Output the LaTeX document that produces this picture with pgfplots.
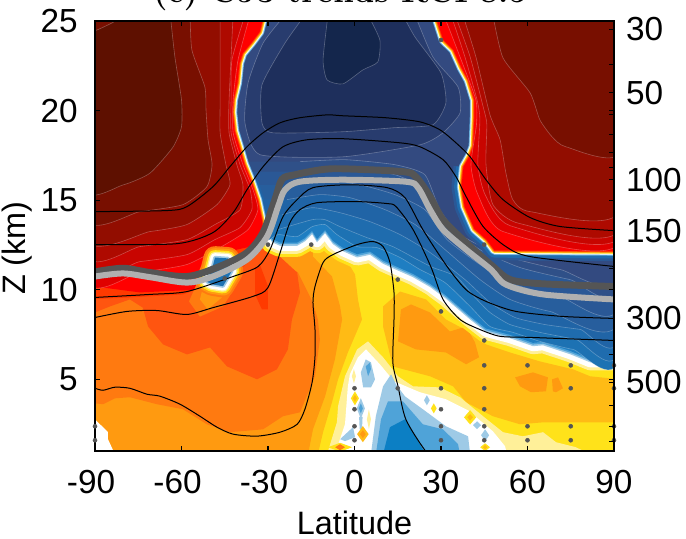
\documentclass[border=0pt]{standalone}
\usepackage{fontspec}
\setsansfont{Liberation Sans}
\usepackage{pgfplots}
\usepackage{pgfplotstable}
\pgfplotsset{compat=1.18}
\definecolor{ye}{HTML}{FFE21A}\definecolor{yb}{HTML}{FFBB15}\definecolor{o9}{HTML}{FF9A10}
\definecolor{o7}{HTML}{FF7A10}\definecolor{o5}{HTML}{FF5510}\definecolor{o3}{HTML}{FF3A00}
\definecolor{pa}{HTML}{FFF099}\definecolor{lb}{HTML}{9ECAE6}\definecolor{mb}{HTML}{4FA3D8}
\definecolor{db}{HTML}{0C7FC4}\definecolor{b2}{HTML}{1F7EC2}\definecolor{b3}{HTML}{1D72B3}
\definecolor{b4}{HTML}{1F6CAE}\definecolor{b5}{HTML}{2064A6}\definecolor{b6}{HTML}{275E9D}
\definecolor{b7}{HTML}{2A5896}\definecolor{b8}{HTML}{2F5088}\definecolor{b9}{HTML}{334A80}
\definecolor{u1}{HTML}{283C6E}\definecolor{u2}{HTML}{1E2F5C}\definecolor{u3}{HTML}{14264C}
\definecolor{r1}{HTML}{5E1000}\definecolor{r2}{HTML}{780F00}\definecolor{r3}{HTML}{920D00}
\definecolor{r4}{HTML}{AE0A00}\definecolor{r5}{HTML}{C80500}\definecolor{r6}{HTML}{E00000}
\definecolor{gd}{HTML}{555555}\definecolor{gl}{HTML}{B0B0B0}
\pgfplotstableread{
x y
-30.3 13.2
-28.6 12.65
-25.8 12.45
-19.9 12.45
-17.2 12.7
-14.7 13.1
-13 12.65
-10.2 13.15
-7.5 12.55
-4 12.15
0.9 11.8
5.4 11.95
9.9 11.45
14.7 11.1
20.3 10.7
26.2 10.15
31.7 9.5
40 8.35
45.6 7.65
53.9 7.3
61.9 6.85
65.4 6.9
74.8 6.4
81.7 5.95
95 5.95
}\lowE
\pgfplotstableread{
x y
-30.3 13.2
-28.6 12.65
-25.8 12.45
-19.9 12.45
-17.2 12.7
-14.7 13.1
-13 12.65
-10.2 13.15
-7.5 12.55
-4 12.15
0.9 11.8
5.4 11.95
9.9 11.45
14.7 11.1
20.3 10.7
26.2 10.15
31.7 9.5
40 8.35
45.6 7.65
53.9 7.3
61.9 6.85
65.4 6.9
74.8 6.4
81.7 5.95
95 5.95
95 27
-45 27
-45 13.2
}\Pfill
\pgfplotstableread{
x y
-31.2 25.5
-32.9 24.4
-35.7 23.8
-38.8 23.2
-39.9 22.65
-40.6 21.55
-42 20.6
-42.3 19.9
-41.6 18.85
-39.9 17.95
-38.2 17
-35.7 16
-33.6 15
-32.2 13.95
-31.5 13.2
}\Ledge
\pgfplotstableread{
x y
-35.7 16
-33.6 15
-32.2 13.95
-31.5 13.2
}\LedgeLow
\pgfplotstableread{
x y
27.7 25.5
30.8 23.95
34.3 23.4
37.1 22.4
39.5 21.7
41.6 20.6
41.6 19.65
41.2 18
39.9 17.45
37.8 16.85
37.1 15.75
38.2 14.65
41.6 13.4
45.8 12.8
48.6 12.2
95 12.15
}\Redge
\pgfplotstableread{
x y
37.8 16.85
37.1 15.75
38.2 14.65
41.6 13.4
45.8 12.8
48.6 12.2
95 12.15
}\RedgeLow
\pgfplotstableread{
x y
-48.4 11.8
-43.9 11.75
-42.5 11.05
-45.6 10.2
-49.4 10.3
-51.2 10.45
-49.4 11.15
-48.4 11.8
-43.9 11.75
}\bub
\newcommand{\ptw}[2]{\addplot[draw=#1,line width=#2,line join=round,forget plot]}
\newcommand{\gradedge}[1]{%
\ptw{mb}{7pt} table {#1};
\ptw{lb}{6.2pt} table {#1};
\ptw{white}{5.2pt} table {#1};
\ptw{pa}{4.2pt} table {#1};
\ptw{ye}{3.6pt} table {#1};
\ptw{yb}{3pt} table {#1};
\ptw{o7}{2.2pt} table {#1};
\ptw{o3}{1.3pt} table {#1};
}
\newcommand{\fillpoly}[2]{\addplot[fill=#1,draw=none,forget plot] coordinates {#2};}
\newcommand{\contpoly}[2]{\addplot[fill=#1,draw=white,draw opacity=.28,line width=.45pt,smooth,tension=.35,forget plot] coordinates {#2};}
\newcommand{\blackline}[1]{\addplot[black,line width=.75pt,smooth,tension=.45,forget plot] coordinates {#1};}
\begin{document}
\begin{tikzpicture}
\path[use as bounding box] (0,0) rectangle (514.5pt,404.25pt);
\node[anchor=base,font=\fontsize{24.6}{24.6}\selectfont\bfseries] at (255pt,402pt) {(c) CJ3 trends RCP8.5};
\begin{axis}[
 at={(71.25pt,66pt)},anchor=south west,scale only axis,
 width=389.25pt,height=322.5pt,
 xmin=-90,xmax=90,ymin=1,ymax=25,
 axis on top,clip=true,
 axis line style={line width=1pt},
 tick style={black,line width=.8pt},
 tick align=inside,major tick length=3.75pt,
 xtick={-90,-60,-30,0,30,60,90},
 xticklabels={-90\kern6pt,-60\kern6pt,-30\kern6pt,0,30,60,90},
 ytick={5,10,15,20,25},
 yticklabels={5,10,15,20,25},
 tick label style={font=\sffamily\fontsize{25}{25}\selectfont},
 xticklabel style={yshift=-11pt},
 yticklabel style={xshift=-9.5pt},
 xlabel={Latitude},ylabel={Z (km)},
 label style={font=\sffamily\fontsize{24.3}{24.3}\selectfont},
 xlabel style={yshift=-6pt},
 ylabel style={yshift=-.5pt,xshift=-9pt},
]
% troposphere
\fillpoly{ye}{(-95,0)(95,0)(95,14)(-95,14)}
\fillpoly{yb}{(-3.3,11.8)(.2,10.85)(1.2,9.46)(2.6,8.34)(-2.3,6.5)(-5.7,5)(-7.8,3.72)(-10.9,2.05)(-12.7,.82)(-93.5,.82)(-93.5,12.8)(-3.3,12.8)}
\fillpoly{yb}{(9.9,9.07)(15.8,9.9)(24.8,9.46)(31.7,8.34)(40.1,7.62)(45.6,6.95)(53.9,6.5)(64.3,6)(75.8,5.56)(81.7,5.17)(92,5)(92,2.6)(76.8,2.6)(65.4,2.6)(57.4,2.49)(48,2.94)(38.7,3.72)(34.2,4.61)(26.2,5.17)(13.3,5.72)(9.9,7.95)}
\fillpoly{o9}{(-14.4,11.85)(-7.8,10.74)(-5,9.07)(-4.3,8.34)(-6.8,6.11)(-10.2,4.05)(-14.4,2.21)(-16.1,.82)(-93.5,.82)(-93.5,12.8)(-14.4,12.8)}
\fillpoly{o9}{(15.1,7.12)(16.1,8.9)(19.6,9.18)(26.2,8.73)(33.1,7.67)(38.7,7.95)(41.8,7.06)(43.2,6.23)(38.7,5.84)(31.7,6.5)(21.3,6.67)}
\fillpoly{o9}{(55.7,5.11)(61.9,5.39)(67.1,5.11)(66.4,4.33)(61.2,4.28)(57.4,4.61)}
\fillpoly{o9}{(68.5,5)(70.6,5.11)(72.3,4.5)(69.9,4.28)(68.8,4.33)}
\fillpoly{o7}{(-28.6,12.52)(-24.8,11.52)(-19.6,10.96)(-14.4,9.29)(-12.7,8.34)(-12,7.23)(-13.7,5.17)(-18.9,3.16)(-24.8,2.94)(-31.7,2.21)(-43.2,2.05)(-51.2,2.49)(-59.5,3.33)(-68.5,3.61)(-77.9,4)(-83.1,3.94)(-87.2,3.61)(-93.5,3.72)(-93.5,12.8)}
\fillpoly{o5}{(-28.6,12.8)(-25.9,11.85)(-19.9,10.96)(-18.9,9.85)(-21.7,8.34)(-23.1,6.67)(-26.9,5.56)(-33.8,5)(-44.2,5.72)(-50.1,6.78)(-58.1,6.39)(-66.4,6.95)(-71.6,7.95)(-73.4,9)(-77.9,9.46)(-84.8,9.07)(-93.5,8.51)(-93.5,12.8)}
\fillpoly{o3}{(-93.5,9.46)(-77.9,9.57)(-59.5,9.74)(-50.1,10.3)(-39.7,11.13)(-32.1,12.24)(-32.1,13.08)(-93.5,13.08)}
\fillpoly{o3}{(-34.5,11.2)(-32.8,11.4)(-30,10.2)(-30,8.9)(-32.1,8.9)(-34.5,9.75)}
\fillpoly{white}{(-90,2.77)(-85.5,2.05)(-85.5,1.66)(-83.1,.82)(-93.5,.82)(-93.5,2.77)}
% pale and white centre
\fillpoly{pa}{(4.7,7.12)(9.9,6.23)(15.1,5.17)(20.3,4.61)(29.6,4.55)(36.6,4)(44.6,2.94)(51.5,2.05)(58.4,1.82)(65.4,2.05)(69.9,1.49)(76.8,1.21)(81.7,.82)(-9.5,.82)(-6.1,2.6)(-5.7,3.5)(-3.3,5.17)(.9,6.67)}
\fillpoly{white}{(4,6.67)(8.8,5.84)(13.7,4.89)(22.7,4.28)(31.7,3.89)(39.4,3.27)(48,2.1)(52.2,1.27)(52.9,.82)(-6.8,.82)(-3.3,2.49)(-2.3,4.61)(-1.6,5.28)(1.2,6.23)}
\fillpoly{lb}{(5.7,.82)(7.4,2.94)(9.9,4.61)(12.7,5.28)(14.4,4.72)(17.5,4.05)(23.7,3.33)(31.7,2.38)(39.4,1.82)(40.1,.82)}
\fillpoly{mb}{(7.4,.82)(9.2,2.77)(11.6,3.77)(16.8,3.77)(23.7,2.49)(30.7,2.21)(35.9,1.38)(36.6,.82)}
\fillpoly{db}{(9.9,.82)(12.3,2.33)(17.5,2.77)(23.7,1.1)(24.4,.82)}
\fillpoly{lb}{(2.2,5.39)(3.9,6.11)(5.7,5.95)(7.1,5)(5.7,4.55)(3,4.55)}
\fillpoly{mb}{(3.9,5.72)(5.4,5.95)(5.7,5.56)(4.7,5.17)}
% small patches
\fillpoly{ye}{(-1.25,3.94)(.15,4.33)(1.55,3.94)(.15,3.55)}
\fillpoly{yb}{(-.55,3.94)(.15,4.14)(.85,3.94)(.15,3.74)}
\fillpoly{pa}{(-.9,5.17)(-.2,5.57)(.5,5.17)(-.2,4.77)}
\fillpoly{lb}{(.8,3.38)(2.2,3.95)(3.6,3.38)(2.2,2.8)}
\fillpoly{mb}{(1.5,3.38)(2.2,3.66)(2.9,3.38)(2.2,3.1)}
\fillpoly{lb}{(1.6,2.9)(2.8,2.9)(2.6,2.2)(1.8,2.2)}
\fillpoly{lb}{(-5,1.66)(-.5,2.33)(.2,1.77)(-3.3,1.55)}
\fillpoly{yb}{(.9,1.94)(2.9,2.39)(4.9,1.94)(2.9,1.49)}
\fillpoly{o9}{(1.9,1.94)(2.9,2.16)(3.9,1.94)(2.9,1.72)}
\fillpoly{ye}{(-9.2,1.21)(-5,1.46)(-.8,1.21)(-5,.96)}
\fillpoly{o7}{(-6.7,1.21)(-5,1.38)(-3.3,1.21)(-5,1.04)}
\fillpoly{pa}{(4.3,2.77)(5,3.32)(5.7,2.77)(5,2.22)}
\fillpoly{lb}{(24.1,3.83)(25.1,4.11)(26.1,3.83)(25.1,3.55)}
\fillpoly{ye}{(26.5,3.38)(27.5,3.66)(28.5,3.38)(27.5,3.1)}
\fillpoly{ye}{(38,2.88)(40.1,3.28)(42.2,2.88)(40.1,2.48)}
\fillpoly{yb}{(39.1,2.88)(40.1,3.06)(41.1,2.88)(40.1,2.7)}
\fillpoly{lb}{(41.1,2.44)(42.5,2.66)(43.9,2.44)(42.5,2.22)}
\fillpoly{lb}{(43.9,1.88)(45.3,2.21)(46.7,1.88)(45.3,1.55)}
\fillpoly{ye}{(43.6,1.21)(45.3,1.43)(47,1.21)(45.3,.99)}
\fillpoly{yb}{(44.5,1.21)(45.3,1.33)(46.1,1.21)(45.3,1.09)}
% edge under the tropopause
\ptw{ye}{16.5pt} table {\lowE};
\ptw{pa}{12pt} table {\lowE};
\ptw{white}{7.5pt} table {\lowE};
% blue bands
\addplot[fill=lb,draw=none,forget plot] table {\Pfill};
\addplot[fill=mb,draw=none,forget plot,yshift=1.2pt] table {\Pfill};
\addplot[fill=b2,draw=none,forget plot,yshift=2.5pt] table {\Pfill};
\contpoly{b3}{(-29.3,12.8)(-26.5,13.08)(-19.9,12.97)(-14.7,13.52)(-10.2,13.64)(-6.1,13.08)(.9,12.41)(7.8,12.35)(15.8,11.8)(22.7,11.13)(31.4,10.4)(40.1,9.07)(47,7.95)(55,7.62)(64.3,7.12)(75.8,6.67)(92,6.34)(95,27)(-45,27)(-45,12.8)}
\contpoly{b4}{(-26.5,13.36)(-14.7,13.91)(-10.2,13.91)(-5,13.52)(4.3,12.91)(13.3,12.41)(21.7,11.69)(27.2,11.24)(35.2,10.74)(41.8,9.57)(47,8.73)(53.9,8.06)(64.3,7.62)(76.8,7.23)(92,6.78)(95,27)(-45,27)(-45,13.36)}
\contpoly{b5}{(-25.1,14.19)(-14.7,14.58)(-5,14.3)(5.4,13.8)(15.8,13.08)(26.2,12.08)(38.3,10.57)(47,9.29)(55.7,8.45)(66,8.06)(78.2,7.79)(92,7.51)(95,27)(-45,27)(-45,14.19)}
\contpoly{b6}{(-23.4,15.03)(-12,15.31)(-1.6,15.14)(10.6,14.47)(21,13.64)(31.4,12.24)(43.5,10.57)(53.9,9.46)(67.8,8.79)(92,8.34)(95,27)(-45,27)(-45,15.03)}
\contpoly{b7}{(-22.4,15.86)(-12,16.14)(1.9,15.86)(14,15.31)(24.4,14.47)(32.1,12.8)(43.5,11.41)(55.7,10.29)(71.3,9.62)(92,9.18)(95,27)(-45,27)(-45,15.86)}
\contpoly{b8}{(-20.6,16.59)(-5,16.87)(14,16.42)(24.4,15.58)(32.1,13.64)(43.5,12.24)(57.4,11.24)(74.7,10.57)(92,10.13)(95,27)(-45,27)(-45,16.59)}
\contpoly{b9}{(-18.9,17.15)(-3.3,17.26)(14,16.98)(24.4,16.42)(29.6,14.47)(36.6,13.08)(50.5,11.96)(71.3,11.13)(92,10.85)(95,27)(-45,27)(-45,17.15)}
\contpoly{u1}{(-24.1,25.33)(-31.7,23.77)(-36.9,21.55)(-38,19.32)(-32.8,17.54)(-4,17.42)(22.7,18.09)(30.7,18.76)(36.6,19.87)(35.9,21.32)(27.2,22.99)(21,25.33)}
\contpoly{u2}{(-17.2,25.33)(-24.1,23.77)(-32.1,21.43)(-32.1,19.32)(-28.3,18.76)(-4,18.82)(13.3,19.04)(27.2,19.21)(31.7,20.43)(30,22.1)(21,24.1)(16.8,25.33)}
\contpoly{u3}{(-9.2,25.33)(-10.9,22.83)(-9.5,21.71)(-4,21.49)(2.9,22.27)(8.1,22.72)(8.8,23.94)(4.7,25.33)}
% stratospheric reds, left
\ptw{b5}{10pt} table {\LedgeLow};
\gradedge{\Ledge}
\fillpoly{red}{(-31.2,25.5)(-32.9,24.4)(-35.7,23.8)(-38.8,23.2)(-39.9,22.65)(-40.6,21.55)(-42,20.6)(-42.3,19.9)(-41.6,18.85)(-39.9,17.95)(-38.2,17)(-35.7,16)(-33.6,15)(-32.2,13.95)(-31.5,13.2)(-32.8,12.52)(-40.8,12.24)(-50.1,11.24)(-55.3,10)(-74.4,9.85)(-90,10.18)(-93.5,10.18)(-93.5,26)}
\contpoly{r6}{(-36.2,25.33)(-40.4,22.83)(-42.1,20.6)(-42.1,18.76)(-38.7,16.98)(-35.2,15.58)(-33.5,14.47)(-36.9,13.36)(-44.9,12.52)(-58.1,11.41)(-74.4,10.98)(-93.5,10.68)(-93.5,26)}
\contpoly{r5}{(-38,25.33)(-42.5,22.83)(-42.8,20.6)(-42.8,18.76)(-39.7,16.98)(-36.2,15.58)(-35.6,14.47)(-39.7,13.47)(-48.4,12.8)(-58.1,11.96)(-74.4,11.57)(-93.5,11.24)(-93.5,26)}
\contpoly{r4}{(-42.1,25.33)(-43.5,20.6)(-43.5,18.76)(-40.8,16.98)(-38.7,15.86)(-39.7,14.47)(-48.4,13.64)(-58.1,12.8)(-74.4,12.41)(-93.5,12.08)(-93.5,26)}
\contpoly{r3}{(-46.6,25.33)(-46.6,20.6)(-46.6,18.76)(-44.6,16.98)(-43.2,15.86)(-47.7,14.75)(-58.1,13.64)(-70.9,13.25)(-93.5,12.91)(-93.5,26)}
\contpoly{r2}{(-57,25.33)(-56.4,23.38)(-51.9,21.32)(-51.5,20.04)(-50.8,18.37)(-49.4,16.98)(-51.2,15.75)(-59.5,14.75)(-74.4,14.36)(-93.5,14.03)(-93.5,26)}
\contpoly{r1}{(-64,25.5)(-62.3,23)(-60,20.6)(-60,19.1)(-63,17.95)(-71,16.5)(-80.3,15.85)(-93.5,15.6)(-93.5,24.3)(-90,24.45)(-83,25)(-83,25.5)}
% stratospheric reds, right
\ptw{b7}{15pt} table {\RedgeLow};
\ptw{b4}{11pt} table {\RedgeLow};
\gradedge{\Redge}
\fillpoly{red}{(27.7,25.5)(30.8,23.95)(34.3,23.4)(37.1,22.4)(39.5,21.7)(41.6,20.6)(41.6,19.65)(41.2,18)(39.9,17.45)(37.8,16.85)(37.1,15.75)(38.2,14.65)(41.6,13.4)(45.8,12.8)(48.6,12.2)(95,12.15)(95,26)}
\contpoly{r6}{(31,25.33)(36.6,23)(42.1,20.6)(42.3,19.21)(40.4,16.98)(42.8,15.31)(51.5,13.25)(92,12.63)(95,26)}
\contpoly{r5}{(33.5,25.33)(38.3,23)(42.5,20.6)(43.5,19.5)(42.8,16.98)(45.3,15.31)(53.9,13.58)(92,12.97)(95,26)}
\contpoly{r4}{(34.9,25.33)(40.1,23)(44.9,20.04)(45.9,19.21)(45.6,16.98)(48,14.75)(57.4,13.69)(92,13.36)(95,26)}
\contpoly{r3}{(37.6,25.33)(42.1,23)(47,19.76)(50.5,18.37)(52.5,16.53)(54.9,15.03)(60.9,14.36)(92,14.36)(95,26)}
\contpoly{r2}{(48,25.33)(51.5,22.94)(60.9,20.99)(64.3,19.48)(68.5,18.54)(73.3,17.98)(92,17.65)(95,26)}
% blue bubble
\fillpoly{o7}{(-57.4,9.35)(-53.6,8.5)(-45.6,9.07)(-39.7,10.57)(-52.5,11.13)}
\fillpoly{o9}{(-53.6,9.46)(-50.9,8.9)(-46,9.57)(-43.2,10.3)(-51.9,10.57)}
\ptw{o7}{17pt} table {\bub};
\ptw{o9}{14pt} table {\bub};
\ptw{ye}{11pt} table {\bub};
\ptw{pa}{8.5pt} table {\bub};
\ptw{white}{6.5pt} table {\bub};
\ptw{lb}{2.5pt} table {\bub};
\addplot[fill=b3,draw=none,forget plot] table {\bub};
% tropopause lines
\addplot[gd,line width=5.2pt,smooth,tension=.5,forget plot] coordinates {(-90,11.0)(-80.3,11.2)(-70.9,10.96)(-58.1,10.74)(-47.7,11.24)(-37.3,12.07)(-31.7,13.2)(-27.6,15.03)(-25.1,16.17)(-20.6,16.42)(-11.5,16.7)(-4,16.75)(16.8,16.59)(21.3,16.3)(26.2,15.2)(30.7,13.91)(38.7,12.63)(48,11.3)(53.9,10.57)(64.3,10.34)(90,10.18)};
\addplot[gl,line width=4.5pt,smooth,tension=.5,forget plot] coordinates {(-90,10.74)(-80.3,10.91)(-70.9,10.7)(-58.1,10.4)(-49.1,10.74)(-37.3,11.68)(-30.3,12.97)(-26.5,14.64)(-24.1,15.58)(-18.9,16.03)(-4,16.14)(17.8,16.03)(22,15.7)(26.2,14.47)(30.7,13.36)(38.7,12.24)(47.3,11.13)(52.5,10.29)(65.4,9.74)(90,9.46)};
% thin black lines
\blackline{(-90,14.36)(-65,14.42)(-58.1,14.64)(-49.1,15.75)(-43.2,16.87)(-37.3,17.98)(-31.7,18.76)(-25.8,19.32)(-19,19.6)(-9.5,19.76)(-4,19.71)(10.9,19.6)(22.7,19.37)(29.6,18.93)(35.2,18.2)(40.1,17.42)(45.6,16.14)(51.5,15.03)(60.9,14.03)(71.3,13.53)(90,13.3)}
\blackline{(-90,12.52)(-61.6,12.57)(-49.1,13.19)(-42.1,14.3)(-37.3,15.58)(-31.7,16.87)(-24.8,17.98)(-16.5,18.37)(-4,18.43)(15.8,18.2)(22.7,17.98)(30.7,17.26)(35.2,16.31)(38.7,15.2)(44.6,13.53)(52.5,12.41)(60.9,11.85)(90,11.3)}
\blackline{(-90,9.57)(-70.9,9.74)(-58.1,9.9)(-42.1,10.74)(-33.5,11.29)(-29.3,12.24)(-24.8,14.08)(-19.9,15.03)(-14.4,15.7)(-1.6,15.86)(11.3,15.7)(17.5,15.14)(23.7,13.36)(32.1,11.3)(38.7,10)(45.6,9.35)(56,8.79)(72.3,8.51)(90,8.4)}
\blackline{(-90,8.45)(-78.9,8.79)(-68.5,8.84)(-58.1,8.62)(-49.1,9)(-35.2,9.63)(-30,10.12)(-25.8,12.07)(-22.4,13.75)(-18.9,14.47)(-13,14.86)(.9,14.92)(11.3,14.81)(14.4,14.64)(20.3,13.36)(26.6,11.24)(30.7,9.46)(36.6,8.34)(43.5,7.78)(50.5,7.4)(60.9,7.34)(90,7.17)}
\blackline{(-90,4.5)(-87.2,4.39)(-83.1,4.56)(-77.9,4.5)(-72,4.17)(-67.5,4.06)(-60.5,3.61)(-53.6,2.94)(-47.7,2.33)(-42.1,1.94)(-33.8,1.83)(-25.8,2.05)(-19.9,2.49)(-17.2,3.33)(-14.7,4.83)(-13.7,6.28)(-13.7,7.78)(-14.4,9.29)(-13.7,10.18)(-10.9,11.52)(-7.5,11.96)(.9,12.52)(6.4,12.69)(9.9,12.41)(12.3,11.52)(13.7,9.85)(13.7,8.34)(13.3,5.95)(15.1,4.61)(17.8,2.77)(24.4,1.05)(28,.6)}
% significance dots
\addplot[only marks,mark=*,mark size=1.5pt,gd,mark options={draw=gd,fill=gd},forget plot] coordinates {(-45,10.63)(-30,12.52)(-15,12.52)(30,23.94)(45,12.52)(15,10.57)(30,8.79)(45,7.17)(45,5.78)(60,5.78)(75,5.78)(90,5.78)(0,4.5)(15,4.5)(30,4.5)(45,4.5)(75,4.5)(90,4.5)(0,3.33)(30,3.33)(45,3.33)(0,2.38)(30,2.38)(45,2.38)(60,2.38)(75,2.38)(90,2.38)(0,1.6)(30,1.6)(45,1.6)(60,1.6)(75,1.6)(90,1.6)(-90,2.38)(-90,1.6)};
\end{axis}
\begin{axis}[
 at={(71.25pt,66pt)},anchor=south west,scale only axis,
 width=389.25pt,height=322.5pt,
 xmin=-90,xmax=90,ymin=1,ymax=25,
 axis x line=none,axis y line*=right,
 axis line style={line width=1pt},
 tick style={black,line width=.8pt},
 tick align=inside,major tick length=3.75pt,
 ytick={24.55,22.55,20.99,19.76,18.65,17.65,16.81,16.14,13.3,11.18,8.4,6.39,4.83,3.55,2.38,1.55},
 yticklabels={30,,50,,,,,100,150,,300,,500,,,},
 tick label style={font=\sffamily\fontsize{25}{25}\selectfont},
 yticklabel style={xshift=5.5pt},
]
\addplot[draw=none,forget plot] coordinates {(0,5)(0,20)};
\end{axis}
\end{tikzpicture}
\end{document}
